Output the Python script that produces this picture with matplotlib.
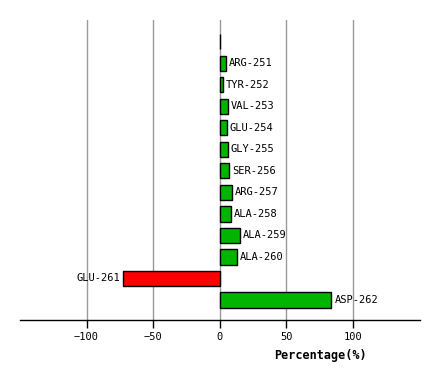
import matplotlib
matplotlib.use("Agg")
import matplotlib.pyplot as plt

labels = ["", "ARG-251", "TYR-252", "VAL-253", "GLU-254", "GLY-255", "SER-256",
          "ARG-257", "ALA-258", "ALA-259", "ALA-260", "GLU-261", "ASP-262"]
values = [0.3, 4.5, 2.2, 6.0, 5.2, 6.0, 6.7, 9.0, 8.2, 15.0, 12.7, -72.5, 84.0]
ticks = [-100, -50, 0, 50, 100]

fig = plt.figure(figsize=(4.4, 3.8), dpi=100)
ax = fig.add_axes([20/440, 1-320/380, 400/440, 300/380])

ypos = list(range(len(values)))
colors = ["#00b400" if v >= 0 else "#ff0000" for v in values]
ax.barh(ypos, values, height=0.7, color=colors, edgecolor="black", linewidth=1, zorder=3)

for y, v, lab in zip(ypos, values, labels):
    if v >= 0:
        ax.text(v + 2.5, y, lab, ha="left", va="center", fontsize=7.5,
                family="DejaVu Sans Mono", zorder=4)
    else:
        ax.text(v - 2.5, y, lab, ha="right", va="center", fontsize=7.5,
                family="DejaVu Sans Mono", zorder=4)

ax.set_xlim(-150, 150.5)
ax.set_ylim(12.93, -1.02)
ax.set_xticks(ticks)
ax.set_xticklabels(["\u2212100", "\u221250", "0", "50", "100"], family="DejaVu Sans Mono", fontsize=7.5)
ax.set_yticks([])
ax.grid(True, axis="x", color="#999999", linewidth=1, zorder=0)
for s in ["left", "right", "top"]:
    ax.spines[s].set_visible(False)
ax.spines["bottom"].set_linewidth(1)
ax.tick_params(axis="x", direction="out", length=6, width=1, pad=3)
ax.set_xlabel("Percentage(%)", family="DejaVu Sans Mono", fontweight="bold", fontsize=8.5,
              va="center")
ax.xaxis.set_label_coords(300/400, -35/300)

plt.savefig("out.png", dpi=100)
